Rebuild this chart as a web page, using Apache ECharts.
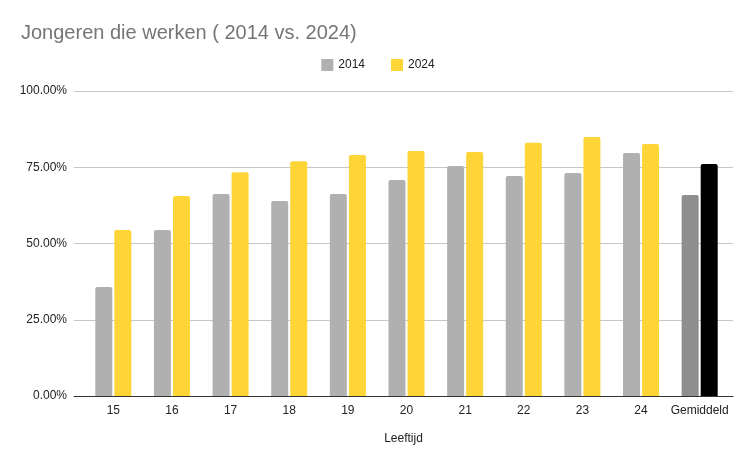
<!DOCTYPE html>
<html>
<head>
<meta charset="utf-8">
<script src="https://cdn.jsdelivr.net/npm/echarts@6/dist/echarts.min.js"></script>
<style>html,body{margin:0;padding:0;background:#fff}#c{width:756px;height:468px}</style>
</head>
<body>
<div id="c"></div>
<script>
const categories = ['15','16','17','18','19','20','21','22','23','24','Gemiddeld'];
const values2014 = [35.7, 54.4, 66.2, 63.9, 66.2, 70.8, 75.4, 72.1, 73.1, 79.7, 65.9];
const values2024 = [54.4, 65.6, 73.4, 77.0, 79.0, 80.3, 80.0, 83.0, 84.9, 82.6, 76.1];
const yTicks = [0, 25, 50, 75, 100];

const chart = echarts.init(document.getElementById('c'));
const font = 'Arial, "Liberation Sans", sans-serif';
function mk(vals, lastColor) {
  return vals.map((v, i) => i === vals.length - 1 ? {value: v, itemStyle: {color: lastColor}} : v);
}
const yMin = yTicks[0], yMax = yTicks[yTicks.length - 1];
chart.setOption({
  animation: false,
  textStyle: {fontFamily: font},
  title: {
    text: 'Jongeren die werken ( 2014 vs. 2024)',
    left: 16, top: 18,
    textStyle: {fontSize: 20, fontWeight: 'normal', color: '#757575', fontFamily: font}
  },
  legend: {
    data: ['2014', '2024'],
    left: 'center', top: 54,
    itemWidth: 12, itemHeight: 12, itemGap: 26,
    icon: 'rect',
    textStyle: {fontSize: 12, color: '#222', fontFamily: font}
  },
  grid: [
    {left: 74, right: 23, top: 91, bottom: 72},
    {left: 84, right: 27, top: 91, bottom: 72}
  ],
  xAxis: [
    {
      type: 'value', gridIndex: 0, min: 0, max: 1,
      axisLabel: {show: false}, axisTick: {show: false}, splitLine: {show: false},
      axisLine: {show: true, lineStyle: {color: '#333', width: 1}},
      name: 'Leeftijd',
      nameLocation: 'middle',
      nameGap: 37,
      nameTextStyle: {fontSize: 12, color: '#222', fontFamily: font}
    },
    {
      type: 'category', gridIndex: 1,
      data: categories,
      axisTick: {show: false},
      axisLine: {show: false},
      axisLabel: {interval: 0, fontSize: 12, color: '#222', margin: 9, fontFamily: font}
    }
  ],
  yAxis: [
    {
      type: 'value', gridIndex: 0,
      min: yMin, max: yMax, interval: 25,
      axisLine: {show: false},
      axisTick: {show: false},
      splitLine: {lineStyle: {color: '#c6c6c6'}},
      axisLabel: {fontSize: 12, color: '#222', margin: 7, fontFamily: font,
        formatter: v => v.toFixed(2) + '%'}
    },
    {
      type: 'value', gridIndex: 1,
      min: yMin, max: yMax, interval: 25,
      axisLine: {show: false}, axisTick: {show: false},
      splitLine: {show: false}, axisLabel: {show: false}
    }
  ],
  series: [
    {name: '2014', type: 'bar', xAxisIndex: 1, yAxisIndex: 1, data: mk(values2014, '#8e8e8e'),
     barWidth: 17, barGap: '12%', itemStyle: {color: '#b0b0b0', borderRadius: [2,2,0,0]}},
    {name: '2024', type: 'bar', xAxisIndex: 1, yAxisIndex: 1, data: mk(values2024, '#000000'),
     barWidth: 17, itemStyle: {color: '#fdd537', borderRadius: [2,2,0,0]}}
  ]
});
</script>
</body>
</html>
